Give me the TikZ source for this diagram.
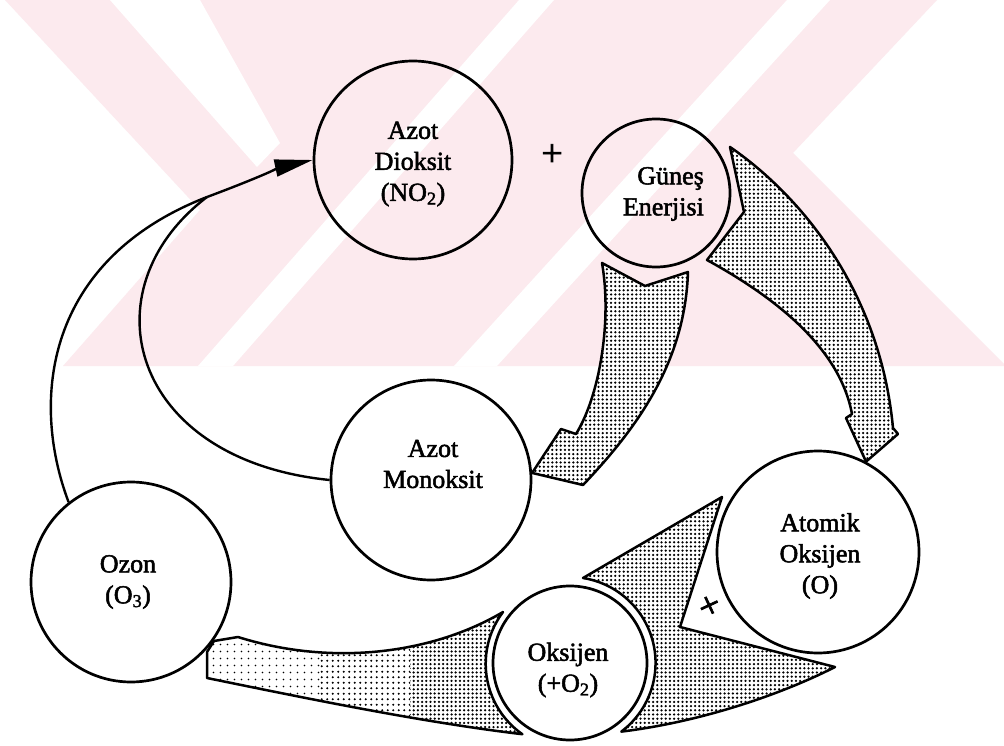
\documentclass[tikz,border=0pt]{standalone}
\usepackage{fontspec}
\setmainfont{Liberation Serif}
\newfontfamily\lblfont{Liberation Serif}[RawFeature={embolden=2}]
\usetikzlibrary{arrows.meta,patterns}
\definecolor{wmpink}{RGB}{252,234,238}
\pgfdeclarepatternformonly{halftone}{\pgfqpoint{-1pt}{-1pt}}{\pgfqpoint{5.2pt}{5.2pt}}{\pgfqpoint{4.2pt}{4.2pt}}{\pgfpathcircle{\pgfqpoint{2.1pt}{2.1pt}}{1.25pt}\pgfusepath{fill}}
\pgfdeclarepatternformonly{halftonemed}{\pgfqpoint{-1pt}{-1pt}}{\pgfqpoint{6.5pt}{6.5pt}}{\pgfqpoint{5.5pt}{5.5pt}}{\pgfpathcircle{\pgfqpoint{2.75pt}{2.75pt}}{1.05pt}\pgfusepath{fill}}
\pgfdeclarepatternformonly{halftonelight}{\pgfqpoint{-1pt}{-1pt}}{\pgfqpoint{8pt}{8pt}}{\pgfqpoint{7pt}{7pt}}{\pgfpathcircle{\pgfqpoint{3.5pt}{3.5pt}}{0.95pt}\pgfusepath{fill}}
\begin{document}
\begin{tikzpicture}[x=1pt,y=-1pt,
  circ/.style={circle,draw,line width=2.7pt,inner sep=0pt},
  lbl/.style={align=center,font=\lblfont\fontsize{26}{31}\selectfont,inner sep=0pt},
  thinline/.style={line width=2.4pt},
  bigarrow/.style={preaction={fill=white},preaction={pattern=halftone},draw,line width=2.5pt,line join=round}]
\useasboundingbox (0,0) rectangle (1004,746);
\fill[white] (0,0) rectangle (1004,746);
% watermark
\fill[wmpink] (5,0) -- (937,0) -- (793,153) -- (1004,364) -- (1004,366) -- (63,366) -- (200,210) -- cycle;
\fill[white] (110,0) -- (200,0) -- (280,143) -- (257,167) -- cycle;
\fill[white] (519,0) -- (554,0) -- (233,366) -- (198,366) -- cycle;
\fill[white] (787,0) -- (830,0) -- (497,366) -- (454,366) -- cycle;

% circles
\node[circ, minimum size=198pt] (dioksit) at (413,160) {};
\node[circ, minimum size=148pt] (gunes) at (656,193) {};
\node[circ, minimum size=200pt] (monoksit) at (431,480) {};
\node[circ, minimum size=200pt] (ozon) at (131,582) {};
\node[circ, minimum size=202pt] (atomik) at (818,552) {};
\node[circ, minimum size=154pt] (oksijen) at (570,663) {};

% big dotted arrows
\path[bigarrow] (602,263) .. controls (612,320) and (600,395) .. (576,434) -- (561,429) -- (monoksit.4) -- (583,485) .. controls (640,425) and (685,360) .. (688,272) -- (645,286) -- cycle;
\path[bigarrow] (730,147) .. controls (800,195) and (880,290) .. (893,428) -- (898,434) -- (atomik.62) -- (846,418) -- (852,414) .. controls (840,350) and (780,300) .. (707,260) -- (744,212) -- cycle;
\path[bigarrow] (722,497) -- (583,578) arc[start angle=81, end angle=-53, radius=86pt] .. controls (700,722) and (780,695) .. (835,667) -- (680,627) -- cycle;
\path[preaction={fill=white},pattern=halftonelight] (207,678) -- (207,652) -- (214,641) -- (238,637) .. controls (330,666) and (430,655) .. (503,612) arc[start angle=143, end angle=235, radius=86pt] .. controls (420,722) and (300,697) .. (207,678) -- cycle;
\begin{scope}
  \clip (207,678) -- (207,652) -- (214,641) -- (238,637) .. controls (330,666) and (430,655) .. (503,612) arc[start angle=143, end angle=235, radius=86pt] .. controls (420,722) and (300,697) .. (207,678) -- cycle;
  \fill[white] (320,590) rectangle (560,746);
  \fill[pattern=halftonemed] (320,590) rectangle (410,746);
  \fill[pattern=halftone] (410,590) rectangle (560,746);
\end{scope}
\draw[line width=2.5pt,line join=round] (207,678) -- (207,652) -- (214,641) -- (238,637) .. controls (330,666) and (430,655) .. (503,612) arc[start angle=143, end angle=235, radius=86pt] .. controls (420,722) and (300,697) .. (207,678) -- cycle;

% thin connectors
\coordinate (merge) at (207,197);
\draw[thinline] (ozon.128) .. controls (30,400) and (45,260) .. (merge);
\draw[thinline] (monoksit.180) .. controls (130,460) and (85,290) .. (merge);
\draw[thinline, -{Triangle[length=38pt,width=17pt]}] (merge) .. controls (250,181) and (285,166) .. (dioksit.180);

% labels
\node[lbl] (dioksitT) at (413,164) {Azot\\Dioksit\\(NO\textsubscript{2})};
\node[lbl, align=right, anchor=east] (gunesT) at (704,194) {Güneş\\Enerjisi};
\node[lbl] (monoksitT) at (433,464) {Azot\\Monoksit};
\node[lbl] (ozonT) at (128,582) {Ozon\\(O\textsubscript{3})};
\node[lbl] (atomikT) at (820,556) {Atomik\\Oksijen\\(O)};
\node[lbl] (oksijenT) at (568,670) {Oksijen\\(+O\textsubscript{2})};
\node[font=\lblfont\fontsize{38}{38}\selectfont, inner sep=0pt] (plus) at (552,155) {+};
\node[font=\lblfont\fontsize{38}{38}\selectfont, rotate=25, inner sep=0pt] (cross) at (710,607) {+};
\end{tikzpicture}
\end{document}
